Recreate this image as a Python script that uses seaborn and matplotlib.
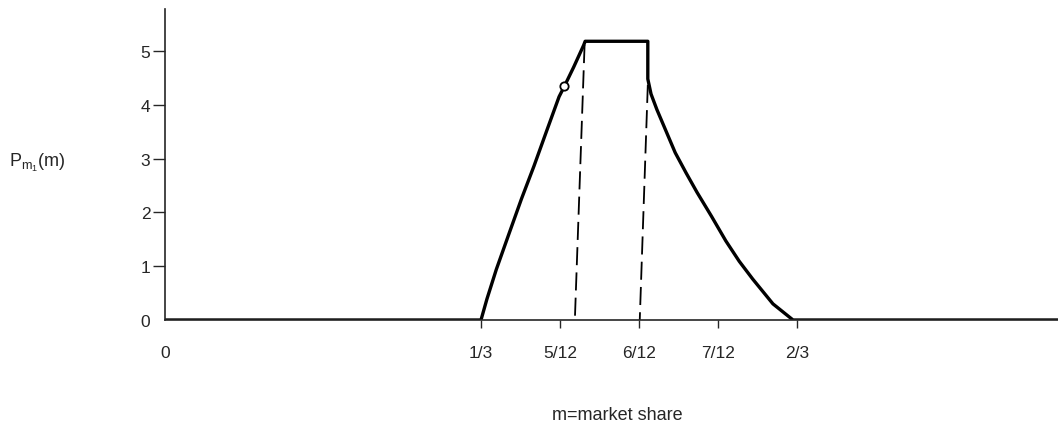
import numpy as np
import pandas as pd
import seaborn as sns
import matplotlib
matplotlib.use("Agg")
import matplotlib.pyplot as plt

# curve: m (market share) vs P_m1(m)
m_vals = [0.0, 1/3, 0.3396, 0.3495, 0.3628, 0.3760, 0.3892, 0.4025,
          0.4157, 0.4212, 0.4311, 0.4417, 0.4432, 0.5093, 0.5093, 0.5127, 0.5189,
          0.5382, 0.5498, 0.5613, 0.5764, 0.5916, 0.6058, 0.6200, 0.6413, 0.6625, 0.942]
p_vals = [0.0, 0.0, 0.39, 0.94, 1.60, 2.25, 2.86, 3.51,
          4.15, 4.34, 4.70, 5.11, 5.18, 5.18, 4.48, 4.20, 3.91,
          3.11, 2.73, 2.37, 1.93, 1.47, 1.09, 0.76, 0.30, 0.0, 0.0]

# dashed verticals (slightly slanted in the scan)
dash1_m = [0.4426, 0.4325]
dash1_p = [5.11, 0.08]
dash2_m = [0.5093, 0.5008]
dash2_p = [4.37, 0.0]

circle_m = [0.4212]
circle_p = [4.34]

xtick_vals = [0, 1/3, 5/12, 6/12, 7/12, 2/3]
xtick_labels = ["0", "1/3", "5/12", "6/12", "7/12", "2/3"]
ytick_vals = [0, 1, 2, 3, 4, 5]

sns.set_style("ticks")
plt.rcParams['font.family'] = ['Liberation Sans', 'DejaVu Sans']
plt.rcParams['mathtext.default'] = 'regular'

fig = plt.figure(figsize=(10.58, 4.27), dpi=100)
ax = fig.add_axes([165/1058, 1 - 321/427, (1058 - 165)/1058, 311/427])

df = pd.DataFrame({"m": m_vals, "p": p_vals})
sns.lineplot(data=df, x="m", y="p", sort=False, estimator=None, errorbar=None,
             color="black", lw=2.4, ax=ax)
ax.plot(dash1_m, dash1_p, color="black", lw=1.3, linestyle=(0, (10, 4)))
ax.plot(dash2_m, dash2_p, color="black", lw=1.3, linestyle=(0, (10, 4)))
ax.plot(circle_m, circle_p, marker="o", ms=6, mfc="white", mec="black", mew=1.3, ls="none")

ax.set_xlim(0, 0.942)
ax.set_ylim(0, 5.78)
ax.set_xticks(xtick_vals)
ax.set_xticklabels(xtick_labels)
ax.set_yticks(ytick_vals)
ax.tick_params(axis="x", length=6, width=1, pad=12, labelsize=12.5)
ax.tick_params(axis="y", length=8.5, width=1, pad=2, labelsize=12.5)
ax.xaxis.get_major_ticks()[0].tick1line.set_visible(False)
ax.yaxis.get_major_ticks()[0].tick1line.set_visible(False)
ax.set_xlabel("")
ax.set_ylabel("")
for s in ["top", "right"]:
    ax.spines[s].set_visible(False)
ax.spines["left"].set_linewidth(1.2)
ax.spines["bottom"].set_linewidth(1.2)

fig.text(9/1058, 1 - 167/427, "$P_{m_1}$(m)", fontsize=13, va="baseline", ha="left")
fig.text(617/1058, 1 - 416/427, "m=market share", fontsize=13, va="center", ha="center")

fig.savefig("out.png", dpi=100)
